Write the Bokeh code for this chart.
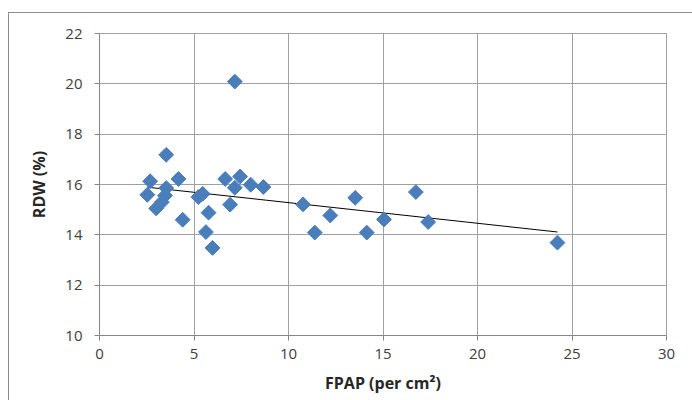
import numpy as np
from bokeh.plotting import figure
from bokeh.models import FixedTicker, Range1d, Spacer
from bokeh.layouts import column, row
from bokeh.embed import file_html
from bokeh.resources import INLINE

# Data
fpap = [7.16, 3.53, 2.68, 4.18, 2.53, 3.53, 3.47, 3.0, 3.3, 4.4,
        5.46, 5.23, 5.77, 5.63, 5.98, 6.65, 7.44, 7.16, 8.0, 8.67,
        6.91, 10.77, 11.39, 12.21, 13.53, 14.14, 15.05, 16.74, 17.39, 24.23]
rdw = [20.09, 17.18, 16.13, 16.22, 15.59, 15.86, 15.56, 15.05, 15.3, 14.6,
       15.63, 15.5, 14.88, 14.11, 13.48, 16.22, 16.32, 15.87, 15.99, 15.9,
       15.2, 15.21, 14.09, 14.77, 15.47, 14.09, 14.61, 15.7, 14.51, 13.69]
x_ticks = [0, 5, 10, 15, 20, 25, 30]
y_ticks = [10, 12, 14, 16, 18, 20, 22]

p = figure(width=683, height=387, output_backend="svg", toolbar_location=None,
           x_range=Range1d(0, 30), y_range=Range1d(10, 22),
           min_border_left=90, min_border_right=26, min_border_top=20,
           min_border_bottom=65)

p.outline_line_color = "#a0a0a0"
p.background_fill_color = "white"
p.border_fill_color = "white"

for ax in (p.xaxis[0], p.yaxis[0]):
    ax.axis_line_color = "#868686"
    ax.major_tick_line_color = "#868686"
    ax.major_tick_out = 5
    ax.major_tick_in = 0
    ax.minor_tick_line_color = None
    ax.major_label_text_font = "Open Sans"
    ax.major_label_text_font_size = "15px"
    ax.major_label_text_color = "#404040"
    ax.axis_label_text_font = "Open Sans"
    ax.axis_label_text_font_size = "16px"
    ax.axis_label_text_font_style = "bold"
    ax.axis_label_text_color = "#262626"

p.xaxis.ticker = FixedTicker(ticks=x_ticks)
p.yaxis.ticker = FixedTicker(ticks=y_ticks)
p.xaxis.major_label_standoff = 8
p.yaxis.major_label_standoff = 12
p.xaxis.axis_label = "FPAP (per cm²)"
p.yaxis.axis_label = "RDW (%)"
p.xaxis.axis_label_standoff = 10
p.yaxis.axis_label_standoff = 12

p.xgrid.grid_line_color = "#a0a0a0"
p.ygrid.grid_line_color = "#a0a0a0"
p.xgrid.ticker = FixedTicker(ticks=x_ticks)
p.ygrid.ticker = FixedTicker(ticks=y_ticks)

# Linear trendline fitted to the data
xa = np.array(fpap)
ya = np.array(rdw)
m, b = np.polyfit(xa, ya, 1)
tx = [xa.min(), xa.max()]
p.line(tx, [m * t + b for t in tx], line_color="black", line_width=1)

p.scatter(fpap, rdw, marker="square", angle=np.pi / 4, size=10.5,
          fill_color="#4a7ebb", line_color="#4a7ebb")

# outer chart border: only its left and top edges fall inside the window
edge = "#8c8c8c"
inner = column(Spacer(width=684, height=1, background=edge),
               row(Spacer(width=1, height=387, background=edge), p, spacing=0),
               spacing=0)
layout = column(Spacer(width=692, height=12),
                row(Spacer(width=8, height=388), inner, spacing=0),
                spacing=0)

open("out.html", "w").write(file_html(layout, INLINE))
